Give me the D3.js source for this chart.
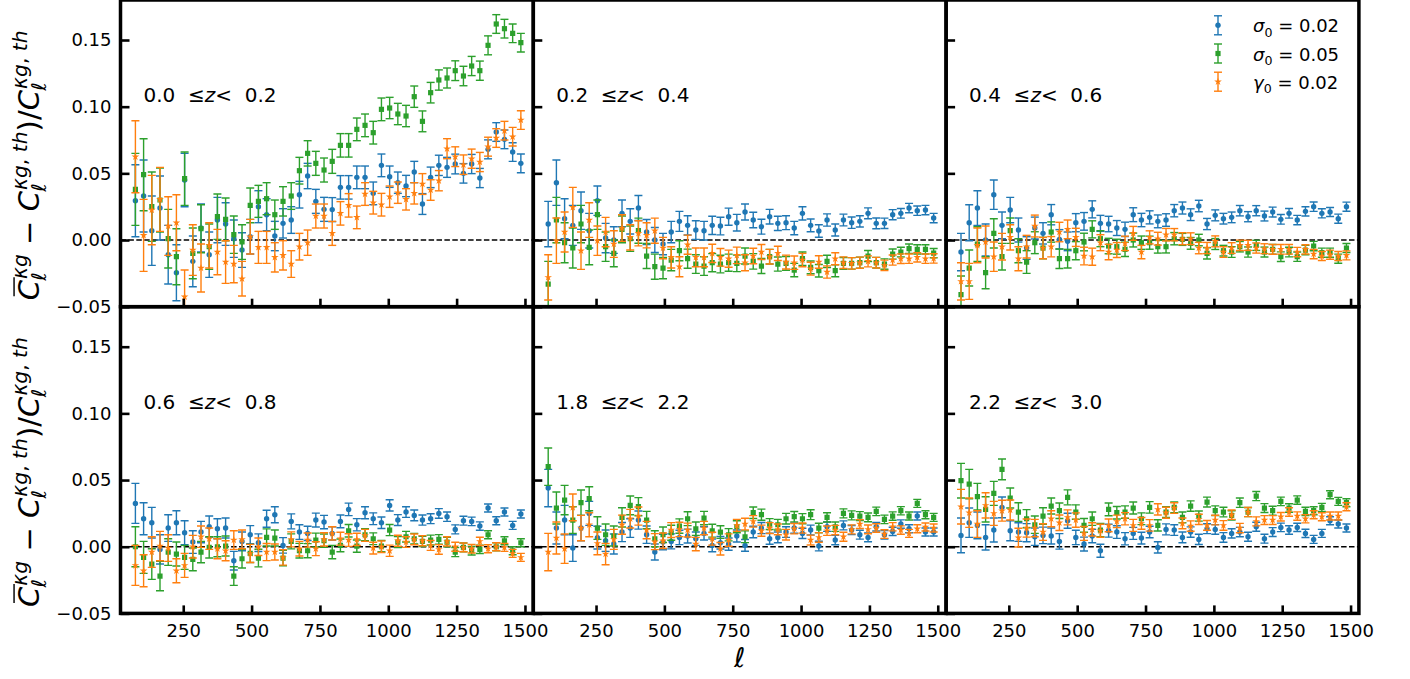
<!DOCTYPE html>
<html>
<head>
<meta charset="utf-8">
<script src="https://cdn.jsdelivr.net/npm/d3@7"></script>
<style>
  body { margin: 0; background: #fff; }
  svg { display: block; font-family: "DejaVu Sans", sans-serif; }
</style>
</head>
<body>
<svg id="chart" width="1410" height="679"></svg>
<script>
// multipole centres (same for every panel)
const ELL = [75,105,135,165,195,225,255,285,315,345,375,405,435,465,495,525,555,585,615,645,675,705,735,765,
             795,825,855,885,915,945,975,1005,1035,1065,1095,1125,1155,1185,1215,1245,1275,1305,1335,1365,1395,1425,1455,1485];

const X_TICKS = [250, 500, 750, 1000, 1250, 1500];
const Y_TICKS = [-0.05, 0.00, 0.05, 0.10, 0.15];

const Z_BINS = [["0.0","0.2"], ["0.2","0.4"], ["0.4","0.6"], ["0.6","0.8"], ["1.8","2.2"], ["2.2","3.0"]];
const SERIES_NAMES = ["σ0 = 0.02", "σ0 = 0.05", "γ0 = 0.02"];

// 0.0 <= z < 0.2
const sig002_z0 = [0.0295,0.033,0.007,0.024,-0.011,-0.0245,0.045,-0.016,0.009,-0.011,0.015,0.012,0.001,-0.0075,0.0025,0.025,0.019,0.003,0.0125,0.015,0.034,0.048,0.029,0.023,0.0228,0.0395,0.0395,0.047,0.047,0.035,0.056,0.0475,0.043,0.0405,0.051,0.027,0.047,0.056,0.0545,0.057,0.050,0.057,0.0465,0.068,0.081,0.0755,0.066,0.0575];
const sig005_z0 = [0.038,0.049,0.025,0.030,0.001,-0.0125,0.046,-0.010,0.0085,-0.005,0.0175,0.0155,0.004,-0.0015,0.026,0.029,0.031,0.019,0.029,0.033,0.052,0.065,0.0575,0.0525,0.059,0.071,0.071,0.083,0.086,0.0805,0.098,0.099,0.0945,0.093,0.1075,0.089,0.1105,0.120,0.1215,0.127,0.123,0.1305,0.127,0.146,0.162,0.1585,0.155,0.148];
const gam002_z0 = [0.0625,0.0035,0.0225,0.0305,0.0105,0.013,-0.0425,-0.0075,-0.021,-0.004,-0.009,-0.0165,-0.018,-0.029,0.0025,-0.0055,-0.0055,-0.013,-0.0115,-0.018,-0.005,-0.002,0.018,0.018,0.005,0.020,0.026,0.017,0.0345,0.028,0.0265,0.0325,0.0355,0.0305,0.035,0.042,0.0375,0.0445,0.0685,0.0625,0.0565,0.061,0.0585,0.070,0.0765,0.082,0.0775,0.090];
const err_z0 = [0.027,0.027,0.026,0.024,0.022,0.021,0.020,0.019,0.018,0.017,0.017,0.016,0.014,0.013,0.013,0.012,0.012,0.011,0.011,0.010,0.010,0.0095,0.009,0.009,0.009,0.0088,0.0088,0.0085,0.0085,0.0085,0.0085,0.008,0.008,0.008,0.008,0.0078,0.0077,0.0076,0.0075,0.0074,0.0073,0.0072,0.0072,0.0071,0.007,0.007,0.007,0.007];

// 0.2 <= z < 0.4
const sig002_z1 = [0.012,0.043,0.016,0.011,0.022,0.007,0.0295,0.0015,0.0,0.020,0.014,0.024,0.006,0.0,-0.003,0.006,0.014,0.011,0.0075,0.007,0.011,0.0105,0.0175,0.013,0.021,0.015,0.010,0.0175,0.0125,0.013,0.009,0.020,0.011,0.0068,0.015,0.0075,0.015,0.013,0.014,0.020,0.0125,0.0125,0.019,0.020,0.024,0.022,0.0225,0.0165];
const sig005_z1 = [-0.033,0.015,-0.002,-0.006,0.012,-0.0055,0.019,-0.005,-0.010,0.008,0.001,0.007,-0.012,-0.020,-0.021,-0.015,-0.008,-0.014,-0.018,-0.0195,-0.017,-0.018,-0.017,-0.0175,-0.012,-0.016,-0.0195,-0.0125,-0.018,-0.0175,-0.0225,-0.014,-0.0205,-0.023,-0.016,-0.023,-0.0175,-0.0175,-0.017,-0.012,-0.017,-0.018,-0.0105,-0.009,-0.0065,-0.007,-0.007,-0.0098];
const gam002_z1 = [-0.028,-0.0005,0.006,0.0245,-0.008,0.015,-0.0005,0.006,-0.003,0.009,0.002,0.005,0.0035,0.007,-0.006,-0.013,-0.020,-0.0035,-0.013,-0.013,-0.010,-0.013,-0.014,-0.0115,-0.017,-0.012,-0.009,-0.0125,-0.010,-0.0165,-0.017,-0.015,-0.0215,-0.0165,-0.024,-0.014,-0.017,-0.0175,-0.017,-0.016,-0.017,-0.019,-0.015,-0.014,-0.014,-0.013,-0.014,-0.0138];
const err_z1 = [0.017,0.017,0.015,0.015,0.014,0.013,0.011,0.011,0.010,0.010,0.0095,0.0094,0.0094,0.0094,0.008,0.008,0.0075,0.0072,0.007,0.007,0.0068,0.0066,0.0064,0.0062,0.006,0.0058,0.0056,0.0055,0.0053,0.0052,0.005,0.005,0.0048,0.0047,0.0046,0.0045,0.0044,0.0043,0.0042,0.0041,0.004,0.0039,0.0038,0.0036,0.0035,0.0035,0.0035,0.0035];

// 0.4 <= z < 0.6
const sig002_z2 = [-0.009,0.013,0.024,0.0,0.034,0.011,0.0225,0.0075,-0.006,0.009,0.005,0.019,0.0005,-0.001,0.013,0.014,0.023,0.0125,0.012,0.009,0.008,0.019,0.015,0.017,0.014,0.015,0.022,0.024,0.019,0.0255,0.012,0.0185,0.016,0.017,0.022,0.0175,0.022,0.018,0.021,0.0155,0.020,0.015,0.0215,0.025,0.020,0.021,0.016,0.025];
const sig005_z2 = [-0.041,-0.021,-0.003,-0.0245,0.005,-0.0125,0.007,-0.008,-0.0165,-0.002,-0.006,0.006,-0.014,-0.014,-0.008,-0.0015,0.008,0.001,-0.0045,-0.005,-0.007,0.0,-0.002,-0.002,-0.005,-0.005,0.001,0.0005,-0.0025,0.0,-0.010,-0.003,-0.008,-0.009,-0.005,-0.009,-0.004,-0.009,-0.007,-0.0125,-0.009,-0.0125,-0.0075,-0.0045,-0.0095,-0.0095,-0.014,-0.006];
const gam002_z2 = [-0.031,-0.031,-0.004,-0.0015,-0.0125,-0.005,0.002,-0.014,-0.005,0.0105,-0.006,-0.005,0.006,0.008,0.002,-0.012,-0.0125,-0.002,-0.009,-0.0075,-0.0025,0.005,-0.009,0.002,0.001,0.004,0.004,0.001,0.001,-0.006,-0.006,-0.001,-0.009,-0.006,-0.004,-0.004,-0.006,-0.0065,-0.007,-0.007,-0.007,-0.009,-0.007,-0.0105,-0.012,-0.011,-0.012,-0.0115];
const err_z2 = [0.014,0.0135,0.013,0.012,0.011,0.010,0.0095,0.009,0.0085,0.0082,0.008,0.0076,0.0073,0.007,0.0068,0.0066,0.0064,0.006,0.0058,0.0056,0.0054,0.0052,0.005,0.0049,0.0048,0.0047,0.0046,0.0045,0.0044,0.0043,0.0042,0.0041,0.004,0.004,0.0039,0.0038,0.0038,0.0037,0.0037,0.0036,0.0036,0.0035,0.0035,0.0035,0.0034,0.0034,0.0034,0.0034];

// 0.6 <= z < 0.8
const sig002_z3 = [0.0325,0.021,0.018,-0.002,0.014,0.018,0.0105,0.0035,0.011,0.015,0.0135,0.014,-0.0105,0.004,0.009,0.003,0.021,0.024,0.001,0.019,0.011,0.010,0.020,0.0185,0.010,0.019,0.028,0.0165,0.0255,0.021,0.018,0.031,0.020,0.026,0.0235,0.020,0.021,0.025,0.0225,0.013,0.0195,0.019,0.0155,0.029,0.0195,0.026,0.016,0.0245];
const sig005_z3 = [0.0,-0.008,-0.013,-0.022,-0.004,-0.0055,-0.008,-0.0095,-0.004,-0.0005,0.0,0.0005,-0.022,-0.009,-0.005,-0.0085,0.007,0.0065,-0.0085,0.004,-0.003,-0.003,0.005,0.0045,-0.004,0.001,0.012,0.0005,0.009,0.006,0.0005,0.0125,0.0035,0.0075,0.006,0.004,0.005,0.0055,0.0035,-0.004,-0.0005,-0.003,-0.002,0.009,0.0,0.0045,-0.003,0.003];
const gam002_z3 = [-0.014,-0.018,-0.004,0.0005,-0.001,-0.018,-0.014,0.0,0.0075,0.006,-0.0015,-0.003,0.005,0.0055,-0.005,0.0,-0.004,-0.004,-0.008,0.0055,-0.0015,0.005,-0.0015,0.0055,0.010,0.006,0.005,0.0055,0.0085,-0.001,0.0,-0.003,0.0045,0.0035,0.0055,0.0045,0.001,-0.002,0.004,0.0,-0.0005,-0.0015,0.004,-0.0015,0.0,-0.0005,-0.005,-0.008];
const err_z3 = [0.015,0.012,0.0115,0.011,0.010,0.009,0.009,0.0085,0.008,0.008,0.0075,0.0075,0.007,0.007,0.0068,0.0066,0.0064,0.006,0.0058,0.0056,0.0055,0.0053,0.0052,0.005,0.005,0.0048,0.0047,0.0046,0.0045,0.0044,0.0043,0.0042,0.0041,0.004,0.004,0.0038,0.0037,0.0036,0.0035,0.0034,0.0033,0.0032,0.0031,0.003,0.003,0.003,0.003,0.003];

// 1.8 <= z < 2.2
const sig002_z4 = [0.044,0.014,0.020,-0.001,0.014,0.025,0.0068,0.0045,0.002,0.011,0.014,0.020,0.009,-0.004,0.0035,0.004,0.007,0.008,0.006,0.010,0.001,0.003,0.002,0.008,0.001,0.011,0.014,0.006,0.007,0.011,0.014,0.010,0.0125,0.0005,0.015,0.005,0.016,0.0125,0.009,0.007,0.015,0.009,0.0115,0.017,0.0135,0.023,0.011,0.011];
const sig005_z4 = [0.060,0.029,0.035,0.020,0.033,0.036,0.014,0.009,0.008,0.022,0.031,0.030,0.020,0.006,0.009,0.0105,0.0155,0.021,0.0135,0.0215,0.012,0.011,0.009,0.015,0.0075,0.0255,0.024,0.017,0.0165,0.021,0.0225,0.021,0.024,0.014,0.022,0.015,0.025,0.0235,0.023,0.022,0.0265,0.0205,0.023,0.027,0.023,0.0325,0.024,0.022];
const gam002_z4 = [-0.004,0.0065,-0.0015,0.0295,0.014,0.0165,0.0025,-0.0055,0.0055,0.0165,0.021,0.023,0.0125,0.0038,0.0045,0.0125,0.013,0.0125,0.002,0.014,0.006,-0.0015,0.005,0.016,0.017,0.019,0.012,0.014,0.013,0.009,0.0135,0.014,0.005,0.007,0.012,0.0125,0.0075,0.013,0.017,0.013,0.014,0.0095,0.015,0.0125,0.010,0.0135,0.0148,0.014];
const err_z4 = [0.014,0.012,0.011,0.010,0.0095,0.009,0.0085,0.008,0.0075,0.0072,0.007,0.0068,0.0065,0.006,0.0058,0.0056,0.0054,0.0052,0.005,0.005,0.0048,0.0047,0.0046,0.0045,0.0044,0.0043,0.0042,0.0041,0.004,0.004,0.0039,0.0038,0.0037,0.0036,0.0035,0.0035,0.0034,0.0034,0.0033,0.0033,0.0032,0.0032,0.0031,0.0031,0.003,0.003,0.003,0.003];

// 2.2 <= z < 3.0
const sig002_z5 = [0.0085,0.018,0.016,0.007,0.0125,0.0295,0.012,0.011,0.0105,0.0075,0.0085,0.008,0.004,0.0195,0.007,0.002,0.008,-0.003,0.012,0.011,0.006,0.010,0.0065,0.011,-0.0005,0.013,0.0125,0.007,0.011,0.0055,0.0135,0.013,0.007,0.010,0.011,0.0075,0.015,0.006,0.011,0.0145,0.0125,0.0145,0.010,0.0055,0.010,0.0195,0.017,0.014];
const sig005_z5 = [0.0495,0.047,0.0375,0.028,0.040,0.058,0.0365,0.026,0.021,0.0165,0.023,0.0305,0.027,0.037,0.026,0.016,0.021,0.0125,0.028,0.0255,0.026,0.029,0.021,0.0295,0.016,0.026,0.0295,0.022,0.0305,0.023,0.0335,0.027,0.026,0.0235,0.033,0.026,0.038,0.029,0.027,0.034,0.029,0.035,0.0265,0.027,0.0295,0.039,0.034,0.033];
const gam002_z5 = [0.030,0.0255,0.017,0.031,0.025,0.027,0.0275,0.0068,0.014,0.014,0.011,0.021,0.018,0.022,0.020,0.010,0.013,0.012,0.016,0.019,0.021,0.016,0.0175,0.016,0.028,0.0255,0.029,0.0175,0.0155,0.0205,0.016,0.020,0.016,0.024,0.014,0.026,0.019,0.020,0.020,0.0225,0.026,0.023,0.021,0.024,0.0225,0.023,0.023,0.030];
const err_z5 = [0.013,0.011,0.010,0.0095,0.009,0.0078,0.0075,0.007,0.0068,0.0065,0.0062,0.006,0.0058,0.0056,0.0054,0.0052,0.005,0.0049,0.0048,0.0047,0.0046,0.0045,0.0044,0.0043,0.0042,0.0041,0.004,0.004,0.0039,0.0038,0.0037,0.0036,0.0036,0.0035,0.0035,0.0034,0.0034,0.0033,0.0033,0.0032,0.0032,0.0031,0.0031,0.003,0.003,0.003,0.003,0.003];

const panelData = [
  [sig002_z0, sig005_z0, gam002_z0, err_z0],
  [sig002_z1, sig005_z1, gam002_z1, err_z1],
  [sig002_z2, sig005_z2, gam002_z2, err_z2],
  [sig002_z3, sig005_z3, gam002_z3, err_z3],
  [sig002_z4, sig005_z4, gam002_z4, err_z4],
  [sig002_z5, sig005_z5, gam002_z5, err_z5]
];

// ---- layout
const padL = 120.5, padT = 0, pw = 412.8, ph = 306.7;
const colors = ["#1f77b4", "#2ca02c", "#ff7f0e"];
const shapes = [d3.symbolCircle, d3.symbolSquare, d3.symbolStar];
const shapeSize = [23, 27, 18];
const capHalf = 4;

const svg = d3.select("#chart");
const fmtY = d3.format(".2f");

// writes runs of [text, italic] into a text element
function addRuns(t, runs) {
  runs.forEach(r => t.append("tspan").attr("font-style", r[1] ? "italic" : "normal").text(r[0]));
  return t;
}

// simple mathtext: atoms with base, optional sub and sup, laid out from x=0 on baseline y=0
function mathRow(g, atoms, fs) {
  let cx = 0;
  atoms.forEach(a => {
    const t = addRuns(g.append("text").attr("x", cx).attr("y", 0).attr("font-size", fs)
      .attr("xml:space", "preserve"), a.t);
    const w = t.node().getComputedTextLength();
    if (a.bar) {
      g.append("line")
        .attr("x1", cx + fs * 0.14).attr("x2", cx + w + fs * 0.1)
        .attr("y1", -fs * 0.86).attr("y2", -fs * 0.86)
        .attr("stroke", "#000").attr("stroke-width", fs * 0.05);
    }
    let sw = 0;
    if (a.sup) {
      const s = addRuns(g.append("text").attr("x", cx + w + fs * 0.04).attr("y", -fs * 0.42)
        .attr("font-size", fs * 0.7).attr("xml:space", "preserve"), a.sup);
      sw = Math.max(sw, s.node().getComputedTextLength() + fs * 0.04);
    }
    if (a.sub) {
      const s = addRuns(g.append("text").attr("x", cx + w - (a.sup ? fs * 0.02 : 0)).attr("y", fs * 0.24)
        .attr("font-size", fs * 0.7), a.sub);
      sw = Math.max(sw, s.node().getComputedTextLength());
    }
    cx += w + sw;
  });
  return cx;
}

panelData.forEach((pd, p) => {
  const col = p % 3, row = Math.floor(p / 3);
  const x0 = padL + col * pw, y0 = padT + row * ph;

  const x = d3.scaleLinear().domain([20.5, 1530.5]).range([x0, x0 + pw]);
  const y = d3.scaleLinear().domain([-0.05, 0.18]).range([y0 + ph, y0]);

  svg.append("clipPath").attr("id", "clip" + p)
    .append("rect").attr("x", x0).attr("y", y0).attr("width", pw).attr("height", ph);

  const g = svg.append("g").attr("clip-path", "url(#clip" + p + ")");

  // zero line
  g.append("line")
    .attr("x1", x0).attr("x2", x0 + pw)
    .attr("y1", y(0)).attr("y2", y(0))
    .attr("stroke", "#000").attr("stroke-width", 1.5)
    .attr("stroke-dasharray", "5.5,2.4");

  const err = pd[3];
  [0, 1, 2].forEach(s => {
    const vals = pd[s];
    const pts = ELL.map((l, i) => ({ l: l, v: vals[i], e: err[i] }));
    const gs = g.append("g").attr("stroke", colors[s]).attr("fill", colors[s]);

    gs.selectAll(".eb").data(pts).join("line").attr("class", "eb")
      .attr("x1", d => x(d.l)).attr("x2", d => x(d.l))
      .attr("y1", d => y(d.v - d.e)).attr("y2", d => y(d.v + d.e))
      .attr("stroke-width", 1.4);

    gs.selectAll(".caplo").data(pts).join("line").attr("class", "caplo")
      .attr("x1", d => x(d.l) - capHalf).attr("x2", d => x(d.l) + capHalf)
      .attr("y1", d => y(d.v - d.e)).attr("y2", d => y(d.v - d.e))
      .attr("stroke-width", 1.4);

    gs.selectAll(".caphi").data(pts).join("line").attr("class", "caphi")
      .attr("x1", d => x(d.l) - capHalf).attr("x2", d => x(d.l) + capHalf)
      .attr("y1", d => y(d.v + d.e)).attr("y2", d => y(d.v + d.e))
      .attr("stroke-width", 1.4);

    gs.selectAll(".mk").data(pts).join("path").attr("class", "mk")
      .attr("d", d3.symbol().type(shapes[s]).size(shapeSize[s]))
      .attr("transform", d => "translate(" + x(d.l) + "," + y(d.v) + ")")
      .attr("stroke", "none");
  });

  // axes (ticks inward)
  const xAxis = d3.axisBottom(x).tickValues(X_TICKS).tickSizeInner(-8).tickSizeOuter(0)
    .tickPadding(11).tickFormat(row === 1 ? d3.format("d") : () => "");
  const gx = svg.append("g").attr("transform", "translate(0," + (y0 + ph) + ")").call(xAxis);

  const yAxis = d3.axisLeft(y).tickValues(Y_TICKS).tickSizeInner(-9).tickSizeOuter(0)
    .tickPadding(9).tickFormat(col === 0 ? fmtY : () => "");
  const gy = svg.append("g").attr("transform", "translate(" + x0 + ",0)").call(yAxis);

  [gx, gy].forEach(ax => {
    ax.select(".domain").remove();
    ax.selectAll(".tick line").attr("stroke", "#000").attr("stroke-width", 2.6);
    ax.selectAll(".tick text").attr("fill", "#000").attr("font-size", 18)
      .attr("font-family", "DejaVu Sans, sans-serif");
  });

  // frame
  svg.append("rect")
    .attr("x", x0).attr("y", y0).attr("width", pw).attr("height", ph)
    .attr("fill", "none").attr("stroke", "#000").attr("stroke-width", 3.5);

  // redshift bin label
  const zt = svg.append("text")
    .attr("x", x0 + 23).attr("y", y0 + 102)
    .attr("font-size", 20).attr("xml:space", "preserve");
  addRuns(zt, [[Z_BINS[p][0] + "  ≤", 0], ["z", 1], ["<  " + Z_BINS[p][1], 0]]);
});

// legend in the top right panel
const legX = 1218, legY = [25.3, 53.5, 81.7];
[0, 1, 2].forEach(s => {
  const lg = svg.append("g").attr("stroke", colors[s]).attr("fill", colors[s]);
  const cy = legY[s];
  lg.append("line").attr("x1", legX).attr("x2", legX).attr("y1", cy - 9.5).attr("y2", cy + 9.5).attr("stroke-width", 1.4);
  lg.append("line").attr("x1", legX - capHalf).attr("x2", legX + capHalf).attr("y1", cy - 9.5).attr("y2", cy - 9.5).attr("stroke-width", 1.4);
  lg.append("line").attr("x1", legX - capHalf).attr("x2", legX + capHalf).attr("y1", cy + 9.5).attr("y2", cy + 9.5).attr("stroke-width", 1.4);
  lg.append("path").attr("d", d3.symbol().type(shapes[s]).size(shapeSize[s])())
    .attr("transform", "translate(" + legX + "," + cy + ")").attr("stroke", "none");

  const name = SERIES_NAMES[s];
  const tg = svg.append("g").attr("transform", "translate(1253," + (cy + 7) + ")");
  mathRow(tg, [
    { t: [[name[0], 1]], sub: [[name[1], 0]] },
    { t: [[name.slice(2), 0]] }
  ], 18);
});

// y labels, one per row
const yLabelAtoms = [
  { t: [["C", 1]], bar: true, sub: [["ℓ", 1]], sup: [["κg", 1]] },
  { t: [[" − ", 0]] },
  { t: [["C", 1]], sub: [["ℓ", 1]], sup: [["κg", 1], [", ", 0], ["th", 1]] },
  { t: [[")/", 0]] },
  { t: [["C", 1]], sub: [["ℓ", 1]], sup: [["κg", 1], [", ", 0], ["th", 1]] }
];
[0, 1].forEach(r => {
  const cy = padT + r * ph + ph / 2 + 12;
  const outer = svg.append("g").attr("transform", "translate(39," + cy + ") rotate(-90)");
  const inner = outer.append("g");
  const w = mathRow(inner, yLabelAtoms, 29);
  inner.attr("transform", "translate(" + (-w / 2) + ",0)");
});

// x label
svg.append("text")
  .attr("x", padL + 1.5 * pw).attr("y", 667)
  .attr("text-anchor", "middle")
  .attr("font-size", 27).attr("font-style", "italic")
  .text("ℓ");
</script>
</body>
</html>
